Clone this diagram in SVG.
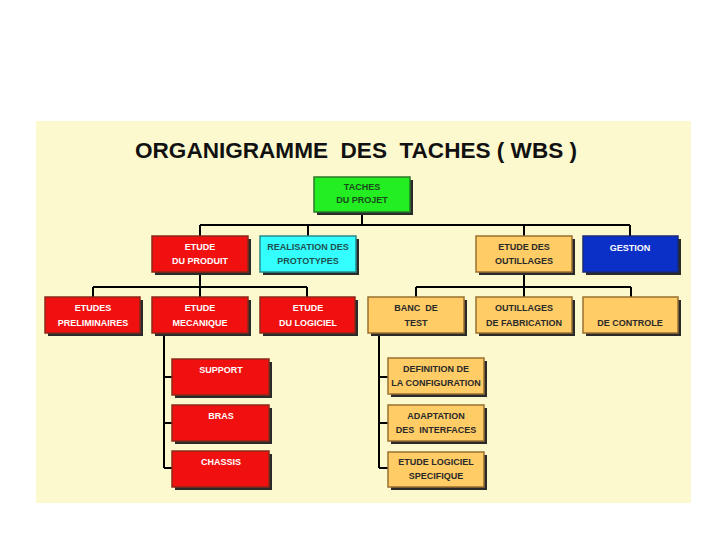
<svg xmlns="http://www.w3.org/2000/svg" width="720" height="540" viewBox="0 0 720 540">
<defs>
<style>
.sh{fill:#2a2a2a;}
.r{fill:#f01010;stroke:#8a2a1a;stroke-width:1.5;}
.o{fill:#ffcc66;stroke:#9a7030;stroke-width:1.5;}
.c{fill:#33ffff;stroke:#2a8a8a;stroke-width:1.5;}
.b{fill:#0a30c8;stroke:#1a2a7a;stroke-width:1.5;}
.g{fill:#22ee22;stroke:#2a7a2a;stroke-width:1.5;}
text{font-family:"Liberation Sans",Arial,sans-serif;font-weight:bold;font-size:9px;text-anchor:middle;white-space:pre;}
.tw{fill:#ffffff;}
.td{fill:#2a2a2a;}
.tc{fill:#1f5050;}
.tg{fill:#1a4a1a;}
.ln{fill:none;stroke:#000;stroke-width:2;}
</style>
</defs>
<rect x="0" y="0" width="720" height="540" fill="#ffffff"/>
<rect x="36" y="121" width="655" height="382" fill="#fcf9cf"/>
<text x="356" y="158" style="font-size:22px;fill:#111" textLength="442" lengthAdjust="spacingAndGlyphs" xml:space="preserve">ORGANIGRAMME  DES  TACHES ( WBS )</text>
<g id="connectors">
<path class="ln" d="M362 212V225M200 225H630M200 225V236M308 225V236M524 225V236M630 225V236"/>
<path class="ln" d="M200 272V287M93 287H307M93 287V297M200 287V297M307 287V297"/>
<path class="ln" d="M524 272V287M416 287H631M416 287V297M524 287V297M631 287V297"/>
<path class="ln" d="M164 333V468M164 377H172M164 423H172M164 468H172"/>
<path class="ln" d="M379 333V468M379 377H388M379 423H388M379 468H388"/>
</g>
<g id="root"><rect class="sh" x="317" y="180" width="96" height="35"/><rect class="g" x="314" y="177" width="96" height="35"/><text class="tg" x="362" y="190">TACHES</text><text class="tg" x="362" y="203">DU PROJET</text></g>
<g id="etude-produit"><rect class="sh" x="155" y="239" width="96" height="36"/><rect class="r" x="152" y="236" width="96" height="36"/><text class="tw" x="200" y="250">ETUDE</text><text class="tw" x="200" y="264">DU PRODUIT</text></g>
<g id="realisation"><rect class="sh" x="263" y="239" width="96" height="36"/><rect class="c" x="260" y="236" width="96" height="36"/><text class="tc" x="308" y="250">REALISATION DES</text><text class="tc" x="308" y="264">PROTOTYPES</text></g>
<g id="etude-outillages"><rect class="sh" x="479" y="239" width="96" height="36"/><rect class="o" x="476" y="236" width="96" height="36"/><text class="td" x="524" y="250">ETUDE DES</text><text class="td" x="524" y="264">OUTILLAGES</text></g>
<g id="gestion"><rect class="sh" x="586" y="239" width="95" height="36"/><rect class="b" x="583" y="236" width="95" height="36"/><text class="tw" x="630" y="251">GESTION</text></g>
<g id="etudes-preliminaires"><rect class="sh" x="48" y="300" width="95" height="36"/><rect class="r" x="45" y="297" width="95" height="36"/><text class="tw" x="93" y="311">ETUDES</text><text class="tw" x="93" y="326">PRELIMINAIRES</text></g>
<g id="etude-mecanique"><rect class="sh" x="155" y="300" width="96" height="36"/><rect class="r" x="152" y="297" width="96" height="36"/><text class="tw" x="200" y="311">ETUDE</text><text class="tw" x="200" y="326">MECANIQUE</text></g>
<g id="etude-logiciel"><rect class="sh" x="263" y="300" width="95" height="36"/><rect class="r" x="260" y="297" width="95" height="36"/><text class="tw" x="308" y="311">ETUDE</text><text class="tw" x="308" y="326">DU LOGICIEL</text></g>
<g id="banc-test"><rect class="sh" x="371" y="300" width="96" height="36"/><rect class="o" x="368" y="297" width="96" height="36"/><text class="td" x="416" y="311">BANC  DE</text><text class="td" x="416" y="326">TEST</text></g>
<g id="outillages-fabrication"><rect class="sh" x="479" y="300" width="96" height="36"/><rect class="o" x="476" y="297" width="96" height="36"/><text class="td" x="524" y="311">OUTILLAGES</text><text class="td" x="524" y="326">DE FABRICATION</text></g>
<g id="de-controle"><rect class="sh" x="586" y="300" width="95" height="36"/><rect class="o" x="583" y="297" width="95" height="36"/><text class="td" x="630" y="326">DE CONTROLE</text></g>
<g id="support"><rect class="sh" x="175" y="362" width="97" height="36"/><rect class="r" x="172" y="359" width="97" height="36"/><text class="tw" x="221" y="373">SUPPORT</text></g>
<g id="bras"><rect class="sh" x="175" y="408" width="97" height="36"/><rect class="r" x="172" y="405" width="97" height="36"/><text class="tw" x="221" y="419">BRAS</text></g>
<g id="chassis"><rect class="sh" x="175" y="454" width="97" height="36"/><rect class="r" x="172" y="451" width="97" height="36"/><text class="tw" x="221" y="465">CHASSIS</text></g>
<g id="definition"><rect class="sh" x="391" y="361" width="96" height="36"/><rect class="o" x="388" y="358" width="96" height="36"/><text class="td" x="436" y="372">DEFINITION DE</text><text class="td" x="436" y="386">LA CONFIGURATION</text></g>
<g id="adaptation"><rect class="sh" x="391" y="408" width="96" height="36"/><rect class="o" x="388" y="405" width="96" height="36"/><text class="td" x="436" y="419">ADAPTATION</text><text class="td" x="436" y="433">DES  INTERFACES</text></g>
<g id="etude-logiciel-specifique"><rect class="sh" x="391" y="455" width="96" height="35"/><rect class="o" x="388" y="452" width="96" height="35"/><text class="td" x="436" y="465">ETUDE LOGICIEL</text><text class="td" x="436" y="479">SPECIFIQUE</text></g>
</svg>
